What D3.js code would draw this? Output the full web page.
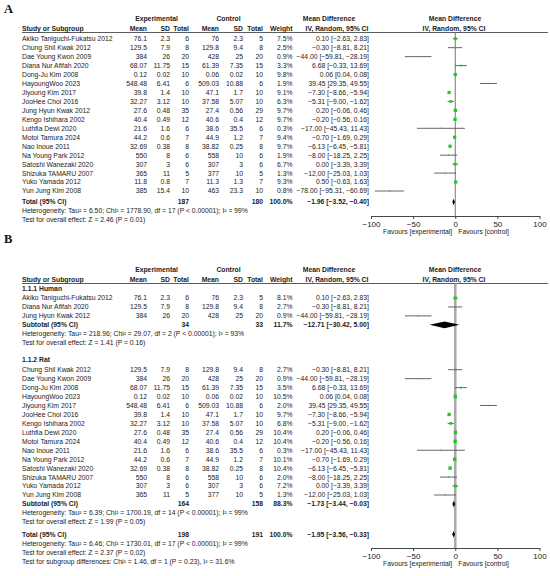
<!DOCTYPE html>
<html>
<head>
<meta charset="utf-8">
<script src="https://cdn.jsdelivr.net/npm/d3@7"></script>
<style>
  body { margin: 0; background: #fff; }
  text { font-family: "Liberation Sans", Arial, sans-serif; font-size: 6.8px; fill: #222; }
  .b { font-weight: bold; }
  .panel { font-family: "Liberation Serif", "Times New Roman", serif; font-size: 12.5px; font-weight: bold; fill: #111; }
</style>
</head>
<body>
<svg id="chart" width="550" height="576"></svg>
<script>
// ---- Panel A: all studies ----
const aStudy = ['Akiko Taniguchi-Fukatsu 2012', 'Chung Shil Kwak 2012', 'Dae Young Kwon 2009', 'Diana Nur Afifah 2020',
  'Dong-Ju Kim 2008', 'HayoungWoo 2023', 'Jiyoung Kim 2017', 'JooHee Choi 2016', 'Jung Hyun Kwak 2012',
  'Kengo Ishihara 2002', 'Luthfia Dewi 2020', 'Motoi Tamura 2024', 'Nao Inoue 2011', 'Na Young Park 2012',
  'Satoshi Wanezaki 2020', 'Shizuka TAMARU 2007', 'Yuko Yamada 2012', 'Yun Jung Kim 2008'];
const aExpMean = [76.1, 129.5, 384, 68.07, 0.12, 548.48, 39.8, 32.27, 27.6, 40.4, 21.6, 44.2, 32.69, 550, 307, 365, 11.8, 385];
const aExpSD = [2.3, 7.9, 26, 11.75, 0.02, 6.41, 1.4, 3.12, 0.48, 0.49, 1.6, 0.6, 0.38, 8, 3, 11, 0.8, 15.4];
const aExpN = [6, 8, 20, 15, 10, 6, 10, 10, 35, 12, 6, 7, 8, 6, 6, 5, 7, 10];
const aCtlMean = [76, 129.8, 428, 61.39, 0.06, 509.03, 47.1, 37.58, 27.4, 40.6, 38.6, 44.9, 38.82, 558, 307, 377, 11.3, 463];
const aCtlSD = [2.3, 9.4, 25, 7.35, 0.02, 10.88, 1.7, 5.07, 0.56, 0.4, 35.5, 1.2, 0.25, 10, 3, 10, 1.3, 23.3];
const aCtlN = [5, 8, 20, 15, 10, 6, 10, 10, 29, 12, 6, 7, 8, 6, 6, 5, 7, 10];
const aWeight = [7.5, 2.5, 0.9, 3.3, 9.8, 1.9, 9.1, 6.3, 9.7, 9.7, 0.3, 9.4, 9.7, 1.9, 6.7, 1.3, 9.3, 0.8];
const aMD = [0.10, -0.30, -44.00, 6.68, 0.06, 39.45, -7.30, -5.31, 0.20, -0.20, -17.00, -0.70, -6.13, -8.00, 0.00, -12.00, 0.50, -78.00];
const aLo = [-2.63, -8.81, -59.81, -0.33, 0.04, 29.35, -8.66, -9.00, -0.06, -0.56, -45.43, -1.69, -6.45, -18.25, -3.39, -25.03, -0.63, -95.31];
const aHi = [2.83, 8.21, -28.19, 13.69, 0.08, 49.55, -5.94, -1.62, 0.46, 0.16, 11.43, 0.29, -5.81, 2.25, 3.39, 1.03, 1.63, -60.69];
const aTotal = { en: 187, cn: 180, w: 100.0, md: -1.96, lo: -3.52, hi: -0.40 };
const aNotes = ['Heterogeneity: Tau² = 6.50; Chi² = 1778.90, df = 17 (P < 0.00001); I² = 99%',
  'Test for overall effect: Z = 2.46 (P = 0.01)'];

// ---- Panel B: subgroups ----
const bGroups = ['1.1.1 Human', '1.1.2 Rat'];
const bGroupCount = [3, 15];
const bStudy = ['Akiko Taniguchi-Fukatsu 2012', 'Diana Nur Afifah 2020', 'Jung Hyun Kwak 2012',
  'Chung Shil Kwak 2012', 'Dae Young Kwon 2009', 'Dong-Ju Kim 2008', 'HayoungWoo 2023', 'Jiyoung Kim 2017',
  'JooHee Choi 2016', 'Kengo Ishihara 2002', 'Luthfia Dewi 2020', 'Motoi Tamura 2024', 'Nao Inoue 2011',
  'Na Young Park 2012', 'Satoshi Wanezaki 2020', 'Shizuka TAMARU 2007', 'Yuko Yamada 2012', 'Yun Jung Kim 2008'];
const bExpMean = [76.1, 129.5, 384, 129.5, 384, 68.07, 0.12, 548.48, 39.8, 32.27, 27.6, 40.4, 21.6, 44.2, 32.69, 550, 307, 365];
const bExpSD = [2.3, 7.9, 26, 7.9, 26, 11.75, 0.02, 6.41, 1.4, 3.12, 0.48, 0.49, 1.6, 0.6, 0.38, 8, 3, 11];
const bExpN = [6, 8, 20, 8, 20, 15, 10, 6, 10, 10, 35, 12, 6, 7, 8, 6, 6, 5];
const bCtlMean = [76, 129.8, 428, 129.8, 428, 61.39, 0.06, 509.03, 47.1, 37.58, 27.4, 40.6, 38.6, 44.9, 38.82, 558, 307, 377];
const bCtlSD = [2.3, 9.4, 25, 9.4, 25, 7.35, 0.02, 10.88, 1.7, 5.07, 0.56, 0.4, 35.5, 1.2, 0.25, 10, 3, 10];
const bCtlN = [5, 8, 20, 8, 20, 15, 10, 6, 10, 10, 29, 12, 6, 7, 8, 6, 6, 5];
const bWeight = [8.1, 2.7, 0.9, 2.7, 0.9, 3.5, 10.5, 2.0, 9.7, 6.8, 10.4, 10.4, 0.3, 10.1, 10.4, 2.0, 7.2, 1.3];
const bMD = [0.10, -0.30, -44.00, -0.30, -44.00, 6.68, 0.06, 39.45, -7.30, -5.31, 0.20, -0.20, -17.00, -0.70, -6.13, -8.00, 0.00, -12.00];
const bLo = [-2.63, -8.81, -59.81, -8.81, -59.81, -0.33, 0.04, 29.35, -8.66, -9.00, -0.06, -0.56, -45.43, -1.69, -6.45, -18.25, -3.39, -25.03];
const bHi = [2.83, 8.21, -28.19, 8.21, -28.19, 13.69, 0.08, 49.55, -5.94, -1.62, 0.46, 0.16, 11.43, 0.29, -5.81, 2.25, 3.39, 1.03];
const bSubEN = [34, 164];
const bSubCN = [33, 158];
const bSubW = [11.7, 88.3];
const bSubMD = [-12.71, -1.73];
const bSubLo = [-30.42, -3.44];
const bSubHi = [5.00, -0.03];
const bSubNotes = [
  ['Heterogeneity: Tau² = 218.96; Chi² = 29.07, df = 2 (P < 0.00001); I² = 93%', 'Test for overall effect: Z = 1.41 (P = 0.16)'],
  ['Heterogeneity: Tau² = 6.39; Chi² = 1700.19, df = 14 (P < 0.00001); I² = 99%', 'Test for overall effect: Z = 1.99 (P = 0.05)']];
const bTotal = { en: 198, cn: 191, w: 100.0, md: -1.95, lo: -3.56, hi: -0.33 };
const bNotes = ['Heterogeneity: Tau² = 6.46; Chi² = 1730.01, df = 17 (P < 0.00001); I² = 99%',
  'Test for overall effect: Z = 2.37 (P = 0.02)',
  'Test for subgroup differences: Chi² = 1.46, df = 1 (P = 0.23), I² = 31.6%'];

const axisTicks = [-100, -50, 0, 50, 100];

// ---- Shared layout ----
const svg = d3.select('#chart');
const x = d3.scaleLinear().domain([-100, 100]).range([371, 539.5]);
const boxSize = d3.scaleSqrt().domain([0, 10.5]).range([0, 3.4]);
const f2 = d3.format('.2f');
const f1 = d3.format('.1f');
const green = '#1ec81e';
const nameX = 22;
const colX = { em: 147, esd: 170, en: 189, cm: 219, csd: 243, cn: 263, w: 292.5, ci: 369 };

function txt(y, xPos, s, anchor, cls) {
  svg.append('text').attr('x', xPos).attr('y', y + 2.4)
    .attr('text-anchor', anchor || 'start').attr('class', cls || null).text(s);
}

function study(y, name, em, esd, en, cm, csd, cn, w, md, lo, hi) {
  txt(y, nameX, name);
  [['em', em], ['esd', esd], ['en', en], ['cm', cm], ['csd', csd], ['cn', cn]]
    .forEach(([k, v]) => txt(y, colX[k], String(v), 'end'));
  txt(y, colX.w, f1(w) + '%', 'end');
  txt(y, colX.ci, `${f2(md)} [${f2(lo)}, ${f2(hi)}]`, 'end');
  svg.append('line').attr('x1', x(lo)).attr('x2', x(hi)).attr('y1', y).attr('y2', y)
    .attr('stroke', '#555').attr('stroke-width', 0.9);
  const s = Math.max(1.3, boxSize(w));
  svg.append('rect').attr('x', x(md) - s / 2).attr('y', y - s / 2)
    .attr('width', s).attr('height', s).attr('fill', green);
}

function pooled(y, label, en, cn, w, md, lo, hi) {
  txt(y, nameX, label, 'start', 'b');
  txt(y, colX.en, String(en), 'end', 'b');
  txt(y, colX.cn, String(cn), 'end', 'b');
  txt(y, colX.w, f1(w) + '%', 'end', 'b');
  txt(y, colX.ci, `${f2(md)} [${f2(lo)}, ${f2(hi)}]`, 'end', 'b');
  const h = 3.3;
  svg.append('path')
    .attr('d', `M${x(lo)},${y}L${x(md)},${y - h}L${x(hi)},${y}L${x(md)},${y + h}Z`)
    .attr('fill', '#000');
}

function header(top, letter, letterY) {
  svg.append('text').attr('class', 'panel').attr('x', 4).attr('y', letterY).text(letter);
  const y1 = top, y2 = top + 10;
  txt(y1, 156.5, 'Experimental', 'middle', 'b');
  txt(y1, 228.5, 'Control', 'middle', 'b');
  txt(y1, 329, 'Mean Difference', 'middle', 'b');
  txt(y1, 455, 'Mean Difference', 'middle', 'b');
  txt(y2, nameX, 'Study or Subgroup', 'start', 'b');
  [['em', 'Mean'], ['esd', 'SD'], ['en', 'Total'], ['cm', 'Mean'], ['csd', 'SD'], ['cn', 'Total'], ['w', 'Weight']]
    .forEach(([k, v]) => txt(y2, colX[k], v, 'end', 'b'));
  txt(y2, 337, 'IV, Random, 95% CI', 'middle', 'b');
  txt(y2, 454, 'IV, Random, 95% CI', 'middle', 'b');
  svg.append('line').attr('x1', nameX).attr('x2', 548).attr('y1', y2 + 3.5).attr('y2', y2 + 3.5)
    .attr('stroke', '#333').attr('stroke-width', 0.8);
  return y2 + 3.5;
}

function axis(y) {
  const g = svg.append('g').attr('transform', `translate(0,${y})`)
    .call(d3.axisBottom(x).tickValues(axisTicks).tickSize(3).tickSizeOuter(0).tickPadding(2)
      .tickFormat(d3.format('d')));
  g.select('.domain').attr('stroke', '#333').attr('stroke-width', 0.9);
  g.selectAll('.tick line').attr('stroke', '#333').attr('stroke-width', 0.9);
  g.selectAll('.tick text').style('font-size', '8px').attr('fill', '#222');
  txt(y + 15.8, x(0) - 3, 'Favours [experimental]', 'end');
  txt(y + 15.8, x(0) + 3, 'Favours [control]', 'start');
}

// ---- Draw panel A ----
const ruleA = header(19, 'A', 12.7);
const axisA = 216;
svg.append('line').attr('x1', x(0)).attr('x2', x(0)).attr('y1', ruleA).attr('y2', axisA)
  .attr('stroke', '#777').attr('stroke-width', 1);
const stepA = 8.96;
aStudy.forEach((name, i) => {
  study(38.7 + i * stepA, name, aExpMean[i], aExpSD[i], aExpN[i], aCtlMean[i], aCtlSD[i], aCtlN[i],
    aWeight[i], aMD[i], aLo[i], aHi[i]);
});
let yA = 38.7 + (aStudy.length - 1) * stepA + 11;
pooled(yA, 'Total (95% CI)', aTotal.en, aTotal.cn, aTotal.w, aTotal.md, aTotal.lo, aTotal.hi);
aNotes.forEach((s, i) => txt(yA + 9 + i * 8.7, nameX, s));
axis(axisA);

// ---- Draw panel B ----
const ruleB = header(270, 'B', 243);
const axisB = 548;
svg.append('line').attr('x1', x(0)).attr('x2', x(0)).attr('y1', ruleB).attr('y2', axisB)
  .attr('stroke', '#aaa').attr('stroke-width', 2.6);
const stepB = 8.95;
let yB = 289;
let idx = 0;
bGroups.forEach((grp, g) => {
  txt(yB, nameX, grp, 'start', 'b');
  yB += g === 0 ? 9 : 10;
  for (let k = 0; k < bGroupCount[g]; k++, idx++) {
    study(yB, bStudy[idx], bExpMean[idx], bExpSD[idx], bExpN[idx], bCtlMean[idx], bCtlSD[idx], bCtlN[idx],
      bWeight[idx], bMD[idx], bLo[idx], bHi[idx]);
    yB += stepB;
  }
  pooled(yB, 'Subtotal (95% CI)', bSubEN[g], bSubCN[g], bSubW[g], bSubMD[g], bSubLo[g], bSubHi[g]);
  yB += stepB;
  bSubNotes[g].forEach(s => { txt(yB, nameX, s); yB += stepB; });
  yB += g === 0 ? 8 : 3.5;
});
pooled(yB, 'Total (95% CI)', bTotal.en, bTotal.cn, bTotal.w, bTotal.md, bTotal.lo, bTotal.hi);
bNotes.forEach((s, i) => txt(yB + 9 + i * 9, nameX, s));
axis(axisB);
</script>
</body>
</html>
